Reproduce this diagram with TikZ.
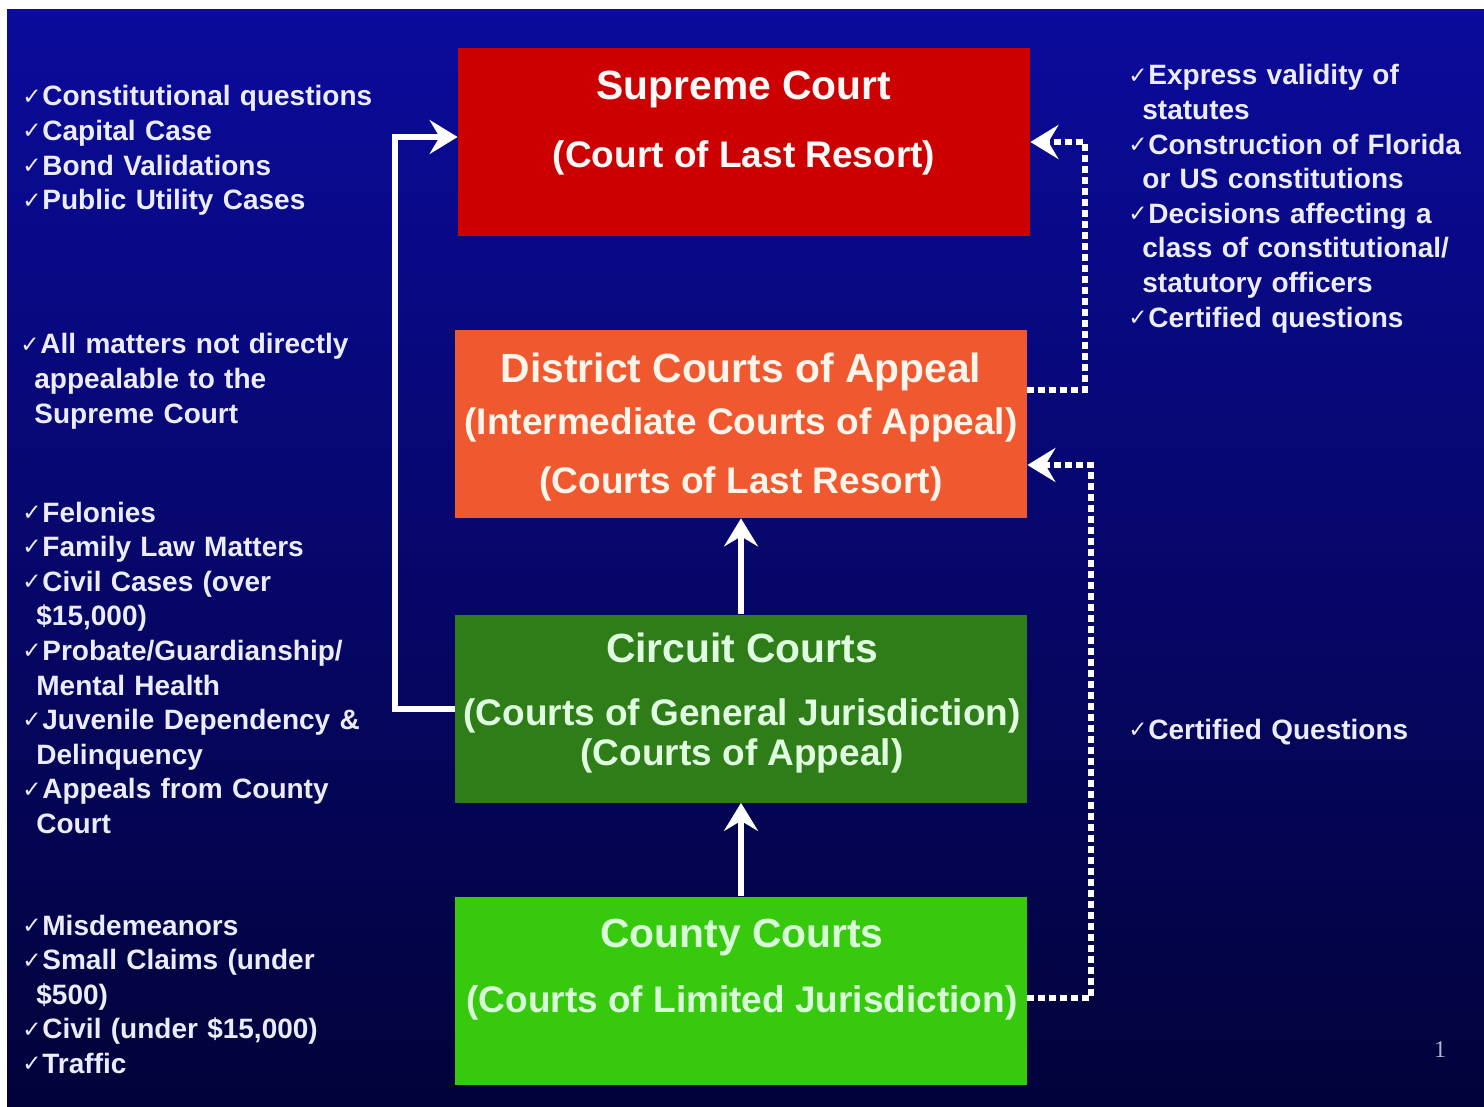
\documentclass[tikz,border=0pt]{standalone}
\usepackage{fontspec}
\setmainfont{Liberation Sans}
\newfontfamily\chkfont{DejaVu Sans}
\newfontfamily\numfont{Liberation Serif}
\usepackage{xcolor}
\usepackage{tikz}
\usetikzlibrary{arrows.meta}
\definecolor{bgtop}{HTML}{0B0B9C}
\definecolor{bgbottom}{HTML}{02023A}
\definecolor{supremered}{HTML}{CC0000}
\definecolor{districtorange}{HTML}{F0582F}
\definecolor{circuitgreen}{HTML}{2E7D18}
\definecolor{countygreen}{HTML}{36C90E}
\definecolor{sidewhite}{HTML}{ECECFF}
\definecolor{pagegray}{HTML}{B4B4CC}
\newcommand{\chk}{{\chkfont\mdseries\fontsize{11.5}{11.5}\selectfont\makebox[10pt][l]{\raisebox{0.8pt}{✓}}}}
\newcommand{\cont}{\hspace*{7pt}}

\begin{document}
\begin{tikzpicture}[x=0.5pt, y=-0.5pt,
  court/.style={rectangle, minimum width=286pt, minimum height=94pt, inner sep=0pt},
  ctitle/.style={anchor=base, inner sep=0pt, font=\bfseries\fontsize{20.4}{24}\selectfont},
  csub/.style={anchor=base, inner sep=0pt, font=\bfseries\fontsize{18.5}{22}\selectfont},
  side/.style={anchor=base west, inner sep=0pt, text width=210pt, align=left,
    text=sidewhite, font=\bfseries\fontsize{14}{17.3}\selectfont},
  solidarrow/.style={white, line width=3pt, -{Stealth[length=14pt, width=17pt, inset=5pt]}},
  dotarrow/.style={white, line width=3pt, dash pattern=on 3.5pt off 2pt,
    -{Stealth[length=14pt, width=17pt, inset=5pt]}}]
  \useasboundingbox (0,0) rectangle (1484,1107);
  % background
  \fill[white] (0,0) rectangle (1484,1107);
  \shade[top color=bgtop, bottom color=bgbottom] (7,10) rectangle (1484,1107);

  % Court boxes
  \node[court, fill=supremered] (supreme) at (744,142) {};
  \node[ctitle, text=white!90!pink] (supremeT) at (744,100) {Supreme Court};
  \node[csub, text=white!90!pink] (supremeS) at (744,168) {(Court of Last Resort)};

  \node[court, fill=districtorange] (district) at (741,424) {};
  \node[ctitle, text=white!92!orange] (districtT) at (741,382) {District Courts of Appeal};
  \node[csub, text=white!92!orange] (districtS) at (741,435) {(Intermediate Courts of Appeal)};
  \node[csub, text=white!92!orange] (districtR) at (741,493) {(Courts of Last Resort)};

  \node[court, fill=circuitgreen] (circuit) at (741,708.5) {};
  \node[ctitle, text=white!88!green] (circuitT) at (742,662) {Circuit Courts};
  \node[csub, text=white!88!green] (circuitS) at (742,725) {(Courts of General Jurisdiction)};
  \node[csub, text=white!88!green] (circuitA) at (742,765) {(Courts of Appeal)};

  \node[court, fill=countygreen] (county) at (741,990.5) {};
  \node[ctitle, text=white!85!green] (countyT) at (742,947) {County Courts};
  \node[csub, text=white!85!green] (countyS) at (742,1012) {(Courts of Limited Jurisdiction)};

  % Appeal routes
  \draw[solidarrow] (county.north) -- (circuit.south);
  \draw[solidarrow] (circuit.north) -- (district.south);
  \draw[solidarrow] (circuit.west) -- ++(-60,0) |- ([yshift=2.5pt]supreme.west);
  \draw[dotarrow] ([yshift=17pt]district.east) -- ++(58,0) |- (supreme.east);
  \draw[dotarrow] ([yshift=-3.5pt]county.east) -- ++(64,0) |- ([yshift=-20.5pt]district.east);

  % Jurisdiction lists, left
  \node[side] (supremeList) at (22,106) {\chk Constitutional questions\\
    \chk Capital Case\\ \chk Bond Validations\\ \chk Public Utility Cases};
  \node[side] (districtList) at (20,354) {\chk All matters not directly\\
    \cont appealable to the\\ \cont Supreme Court};
  \node[side] (circuitList) at (22,522) {\chk Felonies\\ \chk Family Law Matters\\
    \chk Civil Cases (over\\ \cont \$15,000)\\ \chk Probate/Guardianship/\\
    \cont Mental Health\\ \chk Juvenile Dependency \&\\ \cont Delinquency\\
    \chk Appeals from County\\ \cont Court};
  \node[side] (countyList) at (22,935) {\chk Misdemeanors\\ \chk Small Claims (under\\
    \cont \$500)\\ \chk Civil (under \$15,000)\\ \chk Traffic};

  % Jurisdiction lists, right
  \node[side] (supremeRight) at (1128,85) {\chk Express validity of\\
    \cont statutes\\ \chk Construction of Florida\\ \cont or US constitutions\\
    \chk Decisions affecting a\\ \cont class of constitutional/\\
    \cont statutory officers\\ \chk Certified questions};
  \node[side] (countyRight) at (1128,739) {\chk Certified Questions};

  \node[anchor=base, inner sep=0pt, text=pagegray, font=\numfont\fontsize{12}{12}\selectfont]
    (pagenum) at (1440,1057) {1};
\end{tikzpicture}
\end{document}
